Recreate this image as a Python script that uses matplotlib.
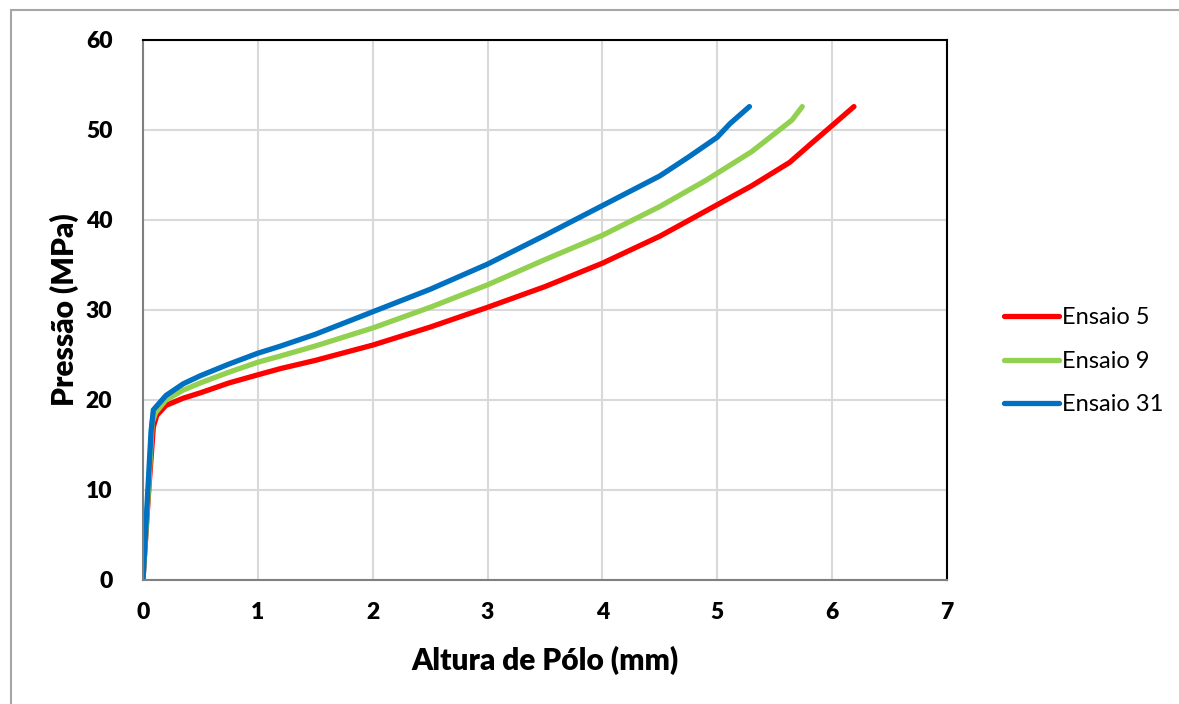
import matplotlib.pyplot as plt
from matplotlib.patches import Rectangle

# Ensaio 5
x_e5 = [0.0, 0.05, 0.09, 0.12, 0.2, 0.35, 0.5, 0.75, 1.0, 1.2, 1.5, 2.0, 2.5, 3.0, 3.5, 4.0, 4.5, 5.0, 5.3, 5.63, 5.8, 6.0, 6.19]
p_e5 = [0.0, 10.0, 17.0, 18.3, 19.4, 20.2, 20.8, 21.9, 22.8, 23.5, 24.4, 26.1, 28.1, 30.3, 32.6, 35.2, 38.2, 41.7, 43.8, 46.4, 48.3, 50.5, 52.6]

# Ensaio 9
x_e9 = [0.0, 0.05, 0.08, 0.11, 0.2, 0.35, 0.5, 0.75, 1.0, 1.2, 1.5, 2.0, 2.5, 3.0, 3.5, 4.0, 4.5, 4.9, 5.3, 5.5, 5.65, 5.74]
p_e9 = [0.0, 10.5, 17.5, 18.6, 20.0, 21.1, 21.9, 23.1, 24.2, 24.9, 26.0, 28.0, 30.3, 32.8, 35.6, 38.3, 41.5, 44.4, 47.6, 49.6, 51.1, 52.6]

# Ensaio 31
x_e31 = [0.0, 0.04, 0.07, 0.09, 0.2, 0.35, 0.5, 0.75, 1.0, 1.2, 1.5, 2.0, 2.5, 3.0, 3.5, 4.0, 4.5, 4.75, 5.0, 5.11, 5.28]
p_e31 = [0.0, 9.5, 16.5, 18.9, 20.5, 21.8, 22.7, 24.0, 25.2, 26.0, 27.3, 29.8, 32.3, 35.1, 38.3, 41.6, 44.9, 47.0, 49.2, 50.7, 52.6]

x_ticks = [0, 1, 2, 3, 4, 5, 6, 7]
y_ticks = [0, 10, 20, 30, 40, 50, 60]

plt.rcParams['font.family'] = ['Lato', 'DejaVu Sans']

fig = plt.figure(figsize=(11.79, 7.04), dpi=100)
ax = fig.add_axes([143 / 1179, 124 / 704, 804 / 1179, 540 / 704])

ax.plot(x_e5, p_e5, color='#ff0000', lw=3.8, label='Ensaio 5', solid_capstyle='round', solid_joinstyle='round')
ax.plot(x_e9, p_e9, color='#92d050', lw=3.8, label='Ensaio 9', solid_capstyle='round', solid_joinstyle='round')
ax.plot(x_e31, p_e31, color='#0070c0', lw=3.8, label='Ensaio 31', solid_capstyle='round', solid_joinstyle='round')

ax.set_xlim(0, 7)
ax.set_ylim(0, 60)
ax.set_xticks(x_ticks)
ax.set_yticks(y_ticks)
ax.grid(True, color='#d9d9d9', lw=1.5)
ax.set_axisbelow(True)
ax.tick_params(length=0, labelsize=16.5)
ax.tick_params(axis='y', pad=22)
ax.tick_params(axis='x', pad=16)
for lab in ax.get_xticklabels() + ax.get_yticklabels():
    lab.set_fontweight('heavy')

ax.spines['left'].set_color('#808080')
ax.spines['bottom'].set_color('#808080')
ax.spines['top'].set_color('black')
ax.spines['right'].set_color('black')
for s in ax.spines.values():
    s.set_linewidth(1.5)

ax.set_xlabel('Altura de Pólo (mm)', fontsize=21.5, fontweight='heavy')
ax.set_ylabel('Pressão (MPa)', fontsize=21.5, fontweight='heavy')
ax.xaxis.set_label_coords(0.5, -0.122)
ax.yaxis.set_label_coords(-0.08, 0.5)

ax.legend(loc='center left', bbox_to_anchor=(1.045, 0.405), frameon=False, fontsize=17,
          handlelength=2.3, handletextpad=0.15, labelspacing=0.95)

fig.add_artist(Rectangle((11 / 1179, -0.1), 2, (694 / 704) + 0.1, transform=fig.transFigure,
                         fill=False, edgecolor='#a6a6a6', lw=1.5))

fig.savefig('out.png', dpi=100)
